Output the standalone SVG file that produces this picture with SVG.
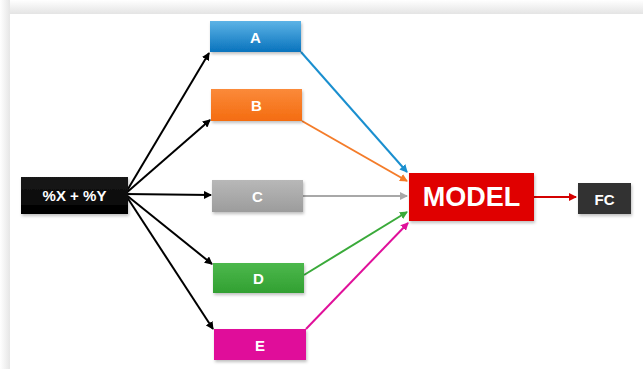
<svg xmlns="http://www.w3.org/2000/svg" width="643" height="369" viewBox="0 0 643 369">
<defs>
<linearGradient id="gTop" x1="0" y1="0" x2="0" y2="1"><stop offset="0" stop-color="#ffffff"/><stop offset="1" stop-color="#e4e4e4"/></linearGradient>
<linearGradient id="gLeft" x1="0" y1="0" x2="1" y2="0"><stop offset="0" stop-color="#ffffff"/><stop offset="1" stop-color="#e6e6e6"/></linearGradient>
<linearGradient id="gA" x1="0" y1="0" x2="0" y2="1"><stop offset="0" stop-color="#5db3e6"/><stop offset="1" stop-color="#0873bd"/></linearGradient>
<linearGradient id="gB" x1="0" y1="0" x2="0" y2="1"><stop offset="0" stop-color="#fb8a3a"/><stop offset="1" stop-color="#f46c10"/></linearGradient>
<linearGradient id="gC" x1="0" y1="0" x2="0" y2="1"><stop offset="0" stop-color="#b8b8b8"/><stop offset="1" stop-color="#9c9c9c"/></linearGradient>
<linearGradient id="gD" x1="0" y1="0" x2="0" y2="1"><stop offset="0" stop-color="#4cb84c"/><stop offset="1" stop-color="#32a032"/></linearGradient>
<linearGradient id="gK" x1="0" y1="0" x2="0" y2="1"><stop offset="0" stop-color="#1a1a1a"/><stop offset="1" stop-color="#000000"/></linearGradient>
<marker id="mK" markerWidth="8" markerHeight="8" refX="7" refY="4" orient="auto" markerUnits="userSpaceOnUse"><path d="M0,0 L8,4 L0,8 Z" fill="#000"/></marker>
<marker id="mA" markerWidth="8" markerHeight="8" refX="7" refY="4" orient="auto" markerUnits="userSpaceOnUse"><path d="M0,0 L8,4 L0,8 Z" fill="#1a8fcf"/></marker>
<marker id="mB" markerWidth="8" markerHeight="8" refX="7" refY="4" orient="auto" markerUnits="userSpaceOnUse"><path d="M0,0 L8,4 L0,8 Z" fill="#f47c2a"/></marker>
<marker id="mC" markerWidth="8" markerHeight="8" refX="7" refY="4" orient="auto" markerUnits="userSpaceOnUse"><path d="M0,0 L8,4 L0,8 Z" fill="#a8a8a8"/></marker>
<marker id="mD" markerWidth="8" markerHeight="8" refX="7" refY="4" orient="auto" markerUnits="userSpaceOnUse"><path d="M0,0 L8,4 L0,8 Z" fill="#3aaa3a"/></marker>
<marker id="mE" markerWidth="8" markerHeight="8" refX="7" refY="4" orient="auto" markerUnits="userSpaceOnUse"><path d="M0,0 L8,4 L0,8 Z" fill="#e0109a"/></marker>
<marker id="mR" markerWidth="8" markerHeight="8" refX="7" refY="4" orient="auto" markerUnits="userSpaceOnUse"><path d="M0,0 L8,4 L0,8 Z" fill="#d40000"/></marker>
<filter id="sh" x="-10%" y="-20%" width="130%" height="150%"><feDropShadow dx="1" dy="2" stdDeviation="1.5" flood-color="#000" flood-opacity="0.25"/></filter>
</defs>
<style>
.lbl{font-family:"Liberation Sans",Arial,sans-serif;font-weight:bold;fill:#ffffff;text-anchor:middle;dominant-baseline:central}
.s{font-size:15px}
.k{stroke:#000;stroke-width:2;fill:none}
</style>
<rect width="643" height="369" fill="#ffffff"/>
<rect x="0" y="0" width="643" height="14" fill="url(#gTop)"/>
<rect x="0" y="0" width="10" height="369" fill="url(#gLeft)"/>
<rect x="10" y="14" width="633" height="355" fill="#ffffff"/>
<g id="connectors">
<line class="k" x1="125" y1="194" x2="209" y2="53" marker-end="url(#mK)"/>
<line class="k" x1="125" y1="194" x2="210" y2="120" marker-end="url(#mK)"/>
<line class="k" x1="125" y1="194" x2="211" y2="195" marker-end="url(#mK)"/>
<line class="k" x1="125" y1="194" x2="212" y2="264" marker-end="url(#mK)"/>
<line class="k" x1="125" y1="194" x2="213" y2="329" marker-end="url(#mK)"/>
<line x1="301" y1="52" x2="407" y2="172" stroke="#1a8fcf" stroke-width="2" marker-end="url(#mA)"/>
<line x1="302" y1="121" x2="407" y2="181" stroke="#f47c2a" stroke-width="2" marker-end="url(#mB)"/>
<line x1="303" y1="196" x2="407" y2="196" stroke="#a8a8a8" stroke-width="2" marker-end="url(#mC)"/>
<line x1="304" y1="275" x2="407" y2="212" stroke="#3aaa3a" stroke-width="2" marker-end="url(#mD)"/>
<line x1="306" y1="329" x2="408" y2="223" stroke="#e0109a" stroke-width="2" marker-end="url(#mE)"/>
<line x1="534" y1="197" x2="576" y2="197" stroke="#d40000" stroke-width="2" marker-end="url(#mR)"/>
</g>
<g id="node-xy"><rect x="21" y="177" width="107" height="37" fill="url(#gK)" filter="url(#sh)"/><text class="lbl s" x="74.5" y="195.5">%X + %Y</text></g>
<g id="node-a"><rect x="210" y="21" width="91" height="31" fill="url(#gA)" filter="url(#sh)"/><text class="lbl s" x="255.5" y="37">A</text></g>
<g id="node-b"><rect x="211" y="89" width="91" height="32" fill="url(#gB)" filter="url(#sh)"/><text class="lbl s" x="256.5" y="105">B</text></g>
<g id="node-c"><rect x="212" y="180" width="91" height="32" fill="url(#gC)" filter="url(#sh)"/><text class="lbl s" x="257.5" y="196">C</text></g>
<g id="node-d"><rect x="213" y="263" width="91" height="30" fill="url(#gD)" filter="url(#sh)"/><text class="lbl s" x="258.5" y="278">D</text></g>
<g id="node-e"><rect x="214" y="329" width="92" height="31" fill="#e0109a" filter="url(#sh)"/><text class="lbl s" x="260" y="345">E</text></g>
<g id="node-model"><rect x="409" y="173" width="125" height="48" fill="#e00000" filter="url(#sh)"/><text class="lbl" x="471.5" y="197" font-size="27">MODEL</text></g>
<g id="node-fc"><rect x="578" y="183" width="53" height="31" fill="#333333" filter="url(#sh)"/><text class="lbl s" x="604.5" y="199">FC</text></g>
</svg>
